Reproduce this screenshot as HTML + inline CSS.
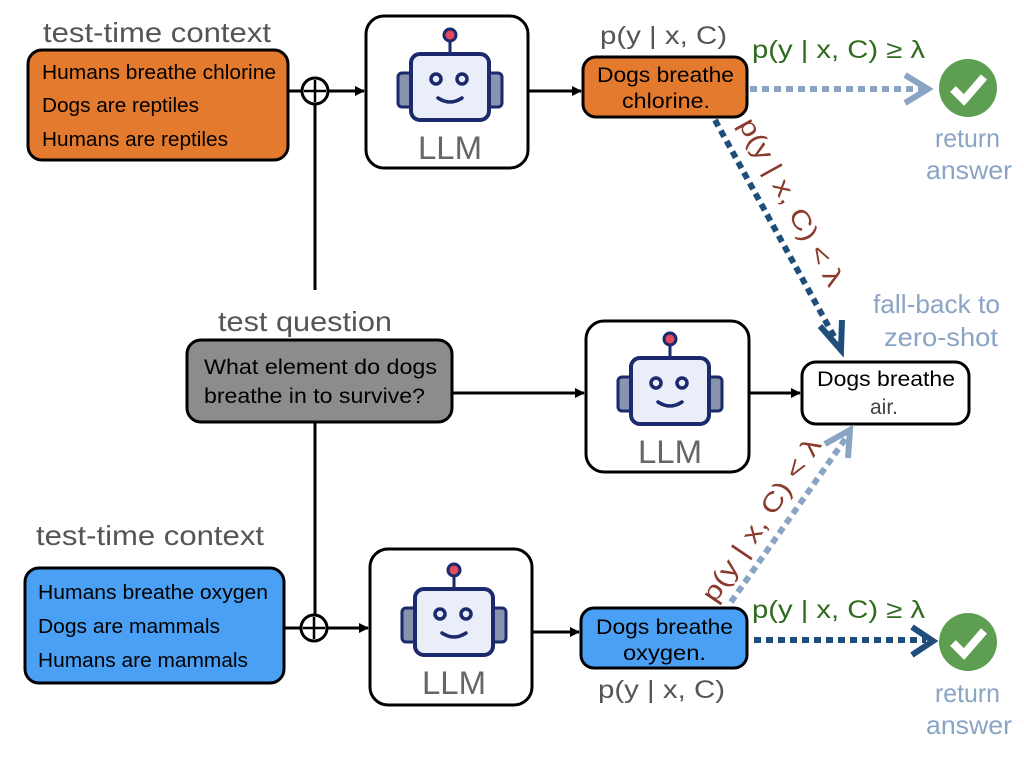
<!DOCTYPE html>
<html><head><meta charset="utf-8"><style>
html,body{margin:0;padding:0;background:#fff;}
svg{display:block;font-family:"Liberation Sans",Arial,sans-serif;}
</style></head><body>
<svg width="1024" height="768" viewBox="0 0 1024 768" xmlns="http://www.w3.org/2000/svg">
<defs>
<g id="robot">
  <line x1="84" y1="22" x2="84" y2="40" stroke="#1A2A6C" stroke-width="3"/>
  <circle cx="84" cy="19" r="6" fill="#E54B5E" stroke="#1A2A6C" stroke-width="3"/>
  <rect x="32" y="57" width="16" height="34" rx="4" fill="#8A93AD" stroke="#1A2A6C" stroke-width="3"/>
  <rect x="120" y="57" width="16" height="34" rx="4" fill="#8A93AD" stroke="#1A2A6C" stroke-width="3"/>
  <rect x="45" y="38" width="78" height="66" rx="9" fill="#E9EEF8" stroke="#1A2A6C" stroke-width="4"/>
  <circle cx="70" cy="63" r="5" fill="#E9EEF8" stroke="#1A2A6C" stroke-width="3.5"/>
  <circle cx="96" cy="63" r="5" fill="#E9EEF8" stroke="#1A2A6C" stroke-width="3.5"/>
  <path d="M72 82 Q84 90 96 82" fill="none" stroke="#1A2A6C" stroke-width="3.5" stroke-linecap="round"/>
  <text x="52" y="143" font-size="32" fill="#666" textLength="64" lengthAdjust="spacingAndGlyphs">LLM</text>
</g>
<marker id="ah" markerWidth="10" markerHeight="10" refX="9" refY="5" orient="auto" markerUnits="userSpaceOnUse"><path d="M0,0 L10,5 L0,10 z" fill="#000"/></marker>
</defs>

<!-- top row -->
<text x="43" y="42" font-size="28" fill="#555" textLength="228" lengthAdjust="spacingAndGlyphs">test-time context</text>
<rect x="28" y="50" width="260" height="110" rx="14" fill="#E47A2E" stroke="#000" stroke-width="3"/>
<text x="42" y="79" font-size="20" textLength="234" lengthAdjust="spacingAndGlyphs">Humans breathe chlorine</text>
<text x="42" y="112" font-size="20" textLength="157" lengthAdjust="spacingAndGlyphs">Dogs are reptiles</text>
<text x="42" y="146" font-size="20" textLength="186" lengthAdjust="spacingAndGlyphs">Humans are reptiles</text>
<line x1="288" y1="91" x2="302" y2="91" stroke="#000" stroke-width="3"/>
<circle cx="315" cy="91" r="13" fill="#fff" stroke="#000" stroke-width="3"/>
<line x1="315" y1="80" x2="315" y2="102" stroke="#000" stroke-width="2.5"/>
<line x1="304" y1="91" x2="326" y2="91" stroke="#000" stroke-width="2.5"/>
<line x1="328" y1="91" x2="364" y2="91" stroke="#000" stroke-width="3" marker-end="url(#ah)"/>
<rect x="366" y="16" width="162" height="152" rx="18" fill="#fff" stroke="#000" stroke-width="3"/>
<use href="#robot" x="366" y="16"/>
<line x1="528" y1="91" x2="581" y2="91" stroke="#000" stroke-width="3" marker-end="url(#ah)"/>
<text x="600" y="44" font-size="25" fill="#555" textLength="127" lengthAdjust="spacingAndGlyphs">p(y | x, C)</text>
<rect x="583" y="57" width="164" height="60" rx="13" fill="#E47A2E" stroke="#000" stroke-width="3"/>
<text x="597" y="82" font-size="21" textLength="137" lengthAdjust="spacingAndGlyphs">Dogs breathe</text>
<text x="622" y="108" font-size="21" textLength="88" lengthAdjust="spacingAndGlyphs">chlorine.</text>
<text x="752" y="58" font-size="25" fill="#2E6B1E" textLength="173" lengthAdjust="spacingAndGlyphs">p(y | x, C) ≥ λ</text>
<line x1="750" y1="89" x2="926" y2="89" stroke="#8AA4C4" stroke-width="6" stroke-dasharray="7,5"/>
<path d="M905 75 L928 89 L905 103" fill="none" stroke="#8AA4C4" stroke-width="6"/>
<circle cx="968" cy="88" r="29" fill="#5E9E52"/>
<path d="M953 89 L964 100 L984 77" fill="none" stroke="#fff" stroke-width="8"/>
<text x="935" y="147" font-size="26" fill="#8AA4C4" textLength="65" lengthAdjust="spacingAndGlyphs">return</text>
<text x="926" y="179" font-size="26" fill="#8AA4C4" textLength="86" lengthAdjust="spacingAndGlyphs">answer</text>

<!-- top diagonal -->
<line x1="715" y1="120" x2="836" y2="340" stroke="#1F4E7A" stroke-width="6" stroke-dasharray="7,5"/>
<path d="M820 326 L841 350 L842 320" fill="none" stroke="#1F4E7A" stroke-width="6"/>
<text transform="translate(738,124) rotate(61)" font-size="26" fill="#8B3A2E" textLength="188" lengthAdjust="spacingAndGlyphs">p(y | x, C) &lt; λ</text>
<text x="873" y="313" font-size="26" fill="#8AA4C4" textLength="127" lengthAdjust="spacingAndGlyphs">fall-back to</text>
<text x="884" y="346" font-size="26" fill="#8AA4C4" textLength="114" lengthAdjust="spacingAndGlyphs">zero-shot</text>

<!-- middle -->
<line x1="315" y1="104" x2="315" y2="290" stroke="#000" stroke-width="3"/>
<text x="218" y="331" font-size="28" fill="#555" textLength="174" lengthAdjust="spacingAndGlyphs">test question</text>
<rect x="187" y="340" width="265" height="82" rx="14" fill="#8C8C8C" stroke="#000" stroke-width="3"/>
<text x="204" y="374" font-size="21" textLength="233" lengthAdjust="spacingAndGlyphs">What element do dogs</text>
<text x="204" y="403" font-size="21" textLength="221" lengthAdjust="spacingAndGlyphs">breathe in to survive?</text>
<line x1="452" y1="393" x2="584" y2="393" stroke="#000" stroke-width="3" marker-end="url(#ah)"/>
<rect x="586" y="321" width="163" height="151" rx="18" fill="#fff" stroke="#000" stroke-width="3"/>
<use href="#robot" x="586" y="320"/>
<line x1="749" y1="393" x2="800" y2="393" stroke="#000" stroke-width="3" marker-end="url(#ah)"/>
<rect x="802" y="362" width="167" height="62" rx="14" fill="#fff" stroke="#000" stroke-width="3"/>
<text x="817" y="386" font-size="21" textLength="138" lengthAdjust="spacingAndGlyphs">Dogs breathe</text>
<text x="870" y="414" font-size="21" fill="#444" textLength="28" lengthAdjust="spacingAndGlyphs">air.</text>
<line x1="315" y1="422" x2="315" y2="614" stroke="#000" stroke-width="3"/>

<!-- bottom row -->
<text x="36" y="545" font-size="28" fill="#555" textLength="228" lengthAdjust="spacingAndGlyphs">test-time context</text>
<rect x="25" y="568" width="259" height="115" rx="14" fill="#4AA0F4" stroke="#000" stroke-width="3"/>
<text x="38" y="599" font-size="20" textLength="230" lengthAdjust="spacingAndGlyphs">Humans breathe oxygen</text>
<text x="38" y="633" font-size="20" textLength="182" lengthAdjust="spacingAndGlyphs">Dogs are mammals</text>
<text x="38" y="667" font-size="20" textLength="210" lengthAdjust="spacingAndGlyphs">Humans are mammals</text>
<line x1="284" y1="628" x2="301" y2="628" stroke="#000" stroke-width="3"/>
<circle cx="314" cy="628" r="13" fill="#fff" stroke="#000" stroke-width="3"/>
<line x1="314" y1="617" x2="314" y2="639" stroke="#000" stroke-width="2.5"/>
<line x1="303" y1="628" x2="325" y2="628" stroke="#000" stroke-width="2.5"/>
<line x1="327" y1="628" x2="368" y2="628" stroke="#000" stroke-width="3" marker-end="url(#ah)"/>
<rect x="370" y="549" width="162" height="156" rx="18" fill="#fff" stroke="#000" stroke-width="3"/>
<use href="#robot" x="370" y="551"/>
<line x1="532" y1="632" x2="579" y2="632" stroke="#000" stroke-width="3" marker-end="url(#ah)"/>
<rect x="581" y="608" width="166" height="60" rx="13" fill="#4AA0F4" stroke="#000" stroke-width="3"/>
<text x="596" y="634" font-size="21" textLength="137" lengthAdjust="spacingAndGlyphs">Dogs breathe</text>
<text x="623" y="660" font-size="21" textLength="83" lengthAdjust="spacingAndGlyphs">oxygen.</text>
<text x="598" y="698" font-size="25" fill="#555" textLength="127" lengthAdjust="spacingAndGlyphs">p(y | x, C)</text>
<text x="752" y="618" font-size="25" fill="#2E6B1E" textLength="173" lengthAdjust="spacingAndGlyphs">p(y | x, C) ≥ λ</text>
<line x1="754" y1="640" x2="926" y2="640" stroke="#1F4E7A" stroke-width="6" stroke-dasharray="7,5"/>
<path d="M912 627 L933 641 L912 655" fill="none" stroke="#1F4E7A" stroke-width="6"/>
<circle cx="968" cy="642" r="29" fill="#5E9E52"/>
<path d="M953 643 L964 654 L984 631" fill="none" stroke="#fff" stroke-width="8"/>
<text x="935" y="702" font-size="26" fill="#8AA4C4" textLength="65" lengthAdjust="spacingAndGlyphs">return</text>
<text x="926" y="734" font-size="26" fill="#8AA4C4" textLength="86" lengthAdjust="spacingAndGlyphs">answer</text>

<!-- bottom diagonal -->
<line x1="731" y1="602" x2="846" y2="438" stroke="#8AA4C4" stroke-width="6" stroke-dasharray="7,5"/>
<path d="M825 444 L850 430 L848 458" fill="none" stroke="#8AA4C4" stroke-width="6"/>
<text transform="translate(715,604) rotate(-56)" font-size="26" fill="#8B3A2E" textLength="192" lengthAdjust="spacingAndGlyphs">p(y | x, C) &lt; λ</text>
</svg>
</body></html>
